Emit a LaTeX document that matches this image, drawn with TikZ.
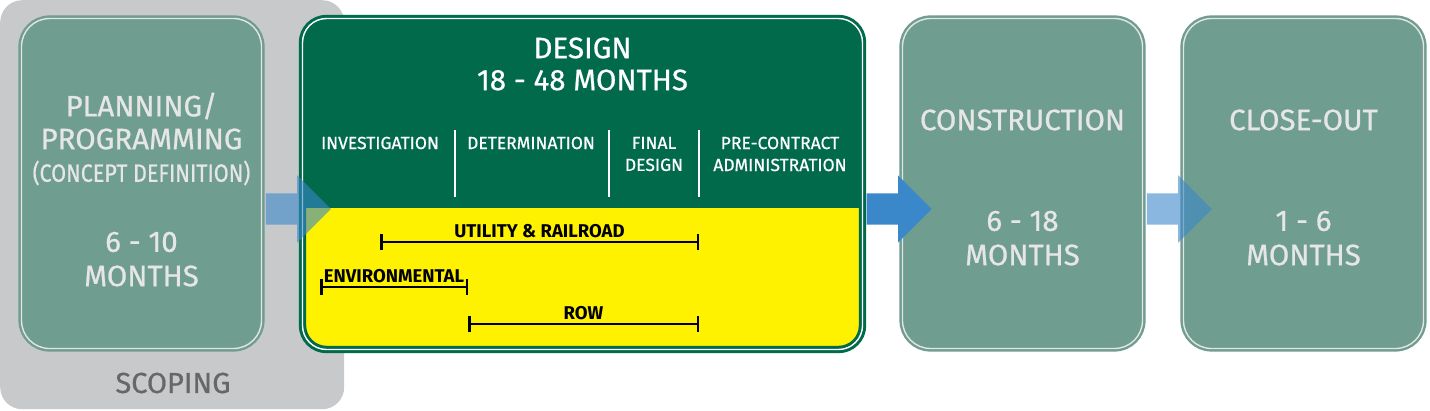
\documentclass[tikz,border=0pt]{standalone}
\usepackage{fontspec}
\setmainfont{Fira Sans}[UprightFeatures={FakeBold=0.7}]
\usetikzlibrary{shapes.arrows,arrows.meta,calc}
\definecolor{scopegray}{HTML}{C8C9CB}
\definecolor{tealc}{HTML}{6F9D8F}
\definecolor{tealline}{HTML}{E4E4E4}
\definecolor{dgreen}{HTML}{006A4B}
\definecolor{signyellow}{HTML}{FFF200}
\definecolor{arrowblue}{HTML}{3A87C9}
\definecolor{scopetext}{HTML}{66676A}
\definecolor{lighttext}{HTML}{E6E6E6}
\begin{document}
\begin{tikzpicture}[x=1pt,y=-1pt,
  tealbox/.style={rounded corners=28pt, fill=tealc, draw=tealc, double=tealline,
    double distance=1.4pt, line width=2.4pt, inner sep=0pt,
    minimum width=240pt, minimum height=330pt},
  designbox/.style={rounded corners=24pt, fill=dgreen, draw=dgreen, double=white,
    double distance=1.4pt, line width=3pt, inner sep=0pt,
    minimum width=560pt, minimum height=331pt,
    path picture={\fill[signyellow, sharp corners] ([yshift=-24pt]path picture bounding box.west)
      rectangle (path picture bounding box.south east);}},
  blockarrow/.style={single arrow, single arrow head extend=18pt,
    single arrow head indent=0pt, minimum height=65pt, minimum width=67pt,
    inner xsep=0pt, inner ysep=15.5pt, fill=arrowblue, draw=none, anchor=tail},
  bigtxt/.style={text=lighttext, font=\fontsize{29.5}{31}\selectfont, inner sep=0pt},
  hdrtxt/.style={text=white, font=\fontsize{29.5}{31}\selectfont, inner sep=0pt},
  phasetxt/.style={text=white, font=\fontsize{17.5}{22}\selectfont, inner sep=0pt, align=center},
  bartxt/.style={text=black, font=\bfseries\fontsize{18.5}{20}\selectfont, inner sep=0pt},
  sepline/.style={draw=white, line width=1.5pt},
  spanbar/.style={draw=black, line width=2.5pt, {Bar[width=16pt,line width=2.5pt]}-{Bar[width=16pt,line width=2.5pt]}}
]
\useasboundingbox (0,0) rectangle (1430,410);

% scoping background
\node[fill=scopegray, rounded corners=22pt, minimum width=344pt, minimum height=409pt,
  inner sep=0pt, anchor=north west] (scopebg) at (0,0) {};
\node[text=scopetext, font=\fontsize{29}{30}\selectfont, inner sep=0pt] (scopelbl) at (173,383) {SCOPING};

% phase boxes
\node[tealbox] (plan) at (141.5,183.5) {};
\node[designbox] (design) at (582.5,184) {};
\node[tealbox] (constr) at (1022.5,183.5) {};
\node[tealbox] (close) at (1303.5,183.5) {};

% planning text
\node[bigtxt] (pl1) at (141.5,106) {PLANNING/};
\node[bigtxt] (pl2) at (141.5,139) {PROGRAMMING};
\node[bigtxt, font=\fontsize{25}{26}\selectfont] (pl3) at (141.5,173) {\scalebox{0.86}[1]{(CONCEPT DEFINITION)}};
\node[bigtxt] (pl4) at (141.5,242) {6 - 10};
\node[bigtxt] (pl5) at (141.5,276) {MONTHS};

% construction / close-out text
\node[bigtxt] (co1) at (1022.5,120) {CONSTRUCTION};
\node[bigtxt] (co2) at (1022.5,221) {6 - 18};
\node[bigtxt] (co3) at (1022.5,255) {MONTHS};
\node[bigtxt] (cl1) at (1303.5,120) {CLOSE-OUT};
\node[bigtxt] (cl2) at (1303.5,221) {1 - 6};
\node[bigtxt] (cl3) at (1303.5,255) {MONTHS};

% design header
\node[hdrtxt] (dt) at (582.5,48) {DESIGN};
\node[hdrtxt] (dm) at (582.5,80) {18 - 48 MONTHS};
\node[phasetxt] (ph1) at (380,143) {INVESTIGATION};
\node[phasetxt] (ph2) at (531,143) {DETERMINATION};
\node[phasetxt] (ph3) at (654,154) {FINAL\\DESIGN};
\node[phasetxt] (ph4) at (780,154) {PRE-CONTRACT\\ADMINISTRATION};
\coordinate (s1t) at (455,130); \coordinate (s1b) at (455,197);
\coordinate (s2t) at (609,130); \coordinate (s2b) at (609,197);
\coordinate (s3t) at (699,130); \coordinate (s3b) at (699,197);
\draw[sepline] (s1t) -- (s1b);
\draw[sepline] (s2t) -- (s2b);
\draw[sepline] (s3t) -- (s3b);

% span bars
\coordinate (ua) at (380,242); \coordinate (ub) at (699,242);
\coordinate (ea) at (320,287); \coordinate (eb) at (468,287);
\coordinate (ra) at (468,324); \coordinate (rb) at (699,324);
\draw[spanbar] (ua) -- node[bartxt, above=3pt] (ulbl) {UTILITY \& RAILROAD} (ub);
\draw[spanbar] (ea) -- node[bartxt, above=3pt] (elbl) {ENVIRONMENTAL} (eb);
\draw[spanbar] (ra) -- node[bartxt, above=3pt] (rlbl) {ROW} (rb);

% arrows
\node[blockarrow, fill opacity=0.6] (ar1) at ([xshift=3pt,yshift=-25.5pt]plan.east) {};
\node[blockarrow] (ar2) at ([xshift=2.5pt,yshift=-25pt]design.east) {};
\node[blockarrow, fill opacity=0.6] (ar3) at ([xshift=3pt,yshift=-25.5pt]constr.east) {};
\end{tikzpicture}
\end{document}
